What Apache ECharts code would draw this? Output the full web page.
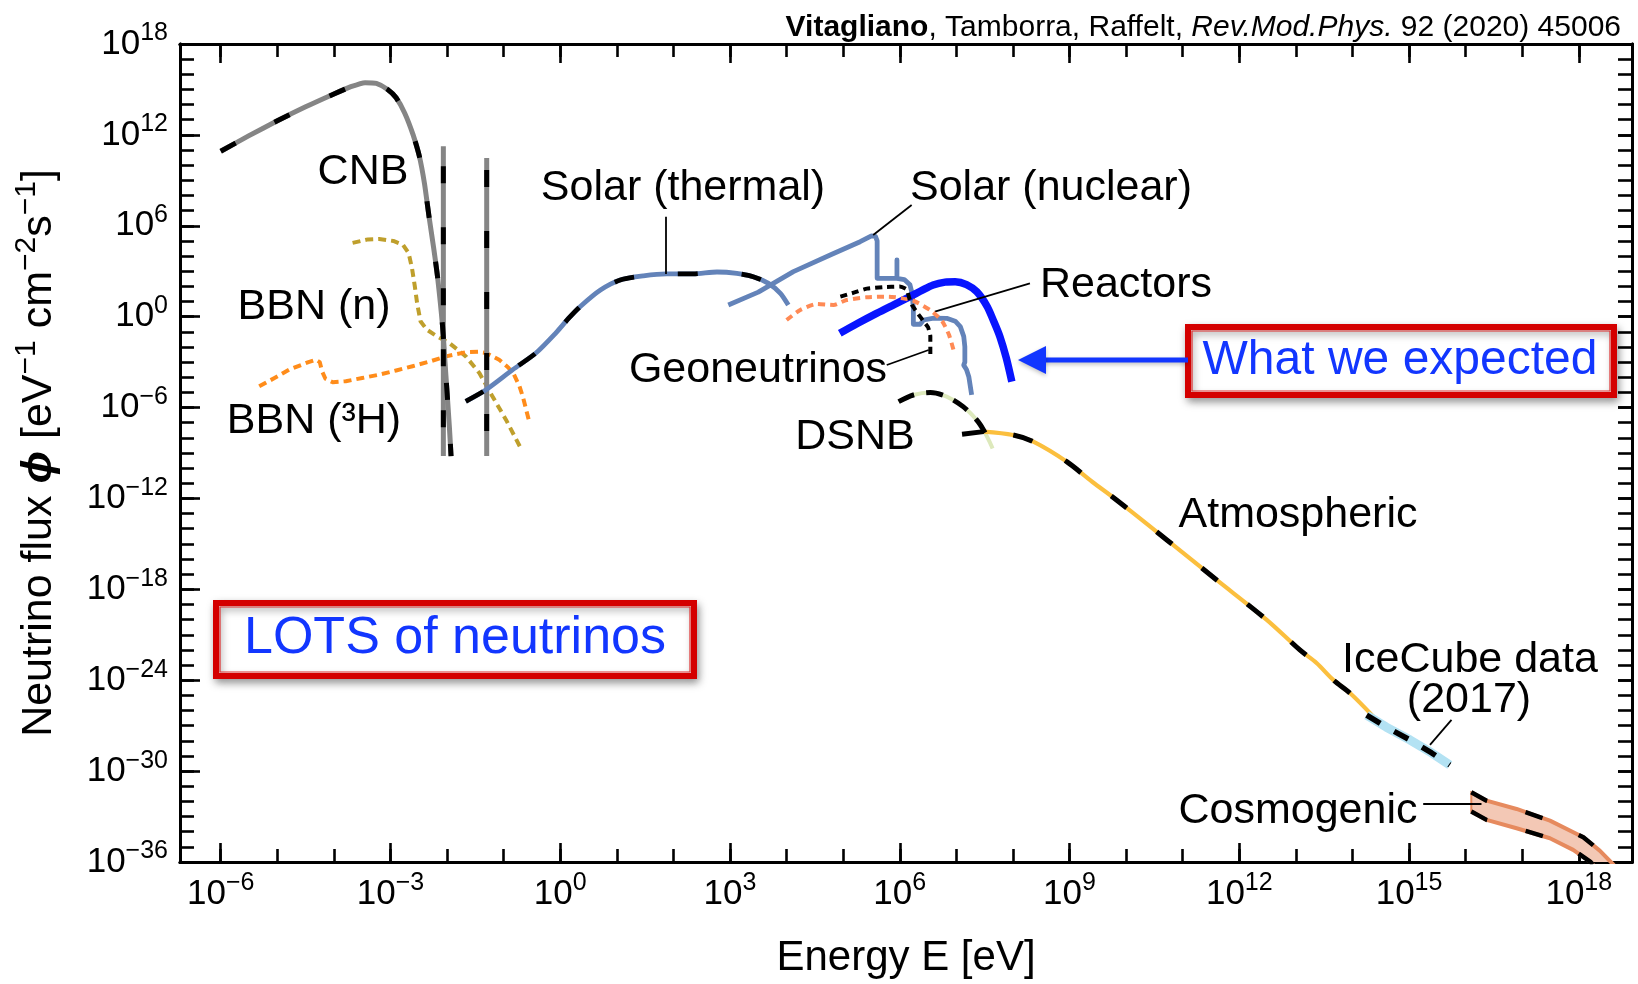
<!DOCTYPE html>
<html><head><meta charset="utf-8">
<script src="https://cdn.jsdelivr.net/npm/echarts@6/dist/echarts.min.js"></script>
<style>html,body{margin:0;padding:0;background:#fff}#c{width:1638px;height:984px}</style>
</head><body><div id="c"></div>
<script>
// ---- axis ticks (log10 values) ----
const xMinorTicks = [-6,-5,-4,-3,-2,-1,0,1,2,3,4,5,6,7,8,9,10,11,12,13,14,15,16,17,18];
const xMajorTicks = [-6,-3,0,3,6,9,12,15,18];
const yMinorTicks = [-36,-35,-34,-33,-32,-31,-30,-29,-28,-27,-26,-25,-24,-23,-22,-21,-20,-19,-18,-17,-16,-15,-14,-13,-12,-11,-10,-9,-8,-7,-6,-5,-4,-3,-2,-1,0,1,2,3,4,5,6,7,8,9,10,11,12,13,14,15,16,17,18];
const yMajorTicks = [-36,-30,-24,-18,-12,-6,0,6,12,18];

// ---- data: [log10(E/eV), log10(flux)] ----
const cnb = [[-6.0,10.92],[-5.5,11.95],[-5.0,12.93],[-4.5,13.85],[-4.0,14.7],[-3.7,15.18],[-3.45,15.45],[-3.25,15.4],[-3.05,15.0],[-2.9,14.45],[-2.75,13.45],[-2.6,12.0],[-2.49,10.59],[-2.4,8.8],[-2.32,6.63],[-2.24,4.6],[-2.17,2.67],[-2.08,-0.63],[-2.02,-3.93],[-1.96,-7.24],[-1.93,-9.2]];
const cnbLine1 = [[-2.066,11.25],[-2.066,-9.2]];
const cnbLine2 = [[-1.30,10.47],[-1.30,-9.2]];
const bbnN = [[-3.67,4.87],[-3.4,5.1],[-3.2,5.13],[-2.95,5.0],[-2.78,4.75],[-2.68,4.2],[-2.62,3.2],[-2.57,2.0],[-2.53,0.9],[-2.47,-0.3],[-2.36,-0.85],[-2.2,-1.25],[-1.96,-1.74],[-1.67,-2.62],[-1.43,-3.72],[-1.2,-5.25],[-0.96,-6.8],[-0.70,-8.67]];
const bbnH3 = [[-5.32,-4.6],[-5.05,-4.05],[-4.79,-3.5],[-4.45,-3.0],[-4.32,-2.84],[-4.25,-3.0],[-4.21,-3.6],[-4.15,-4.1],[-4.02,-4.33],[-3.79,-4.26],[-3.5,-4.05],[-3.2,-3.83],[-2.9,-3.55],[-2.61,-3.27],[-2.3,-2.95],[-2.02,-2.62],[-1.67,-2.35],[-1.45,-2.32],[-1.31,-2.4],[-1.08,-2.84],[-0.92,-3.35],[-0.82,-3.8],[-0.72,-4.6],[-0.66,-5.3],[-0.55,-6.9]];
const solarThermal = [[-1.67,-5.59],[-1.31,-4.82],[-0.84,-3.5],[-0.43,-2.4],[-0.08,-1.08],[0.15,-0.1],[0.35,0.66],[0.71,1.76],[1.06,2.42],[1.47,2.69],[1.88,2.82],[2.35,2.82],[2.77,2.95],[3.12,2.86],[3.41,2.64],[3.68,2.2],[3.89,1.54],[4.03,0.77]];
const solarNuclear = [[2.97,0.77],[3.5,1.62],[4.12,2.97],[4.8,4.12],[5.3,4.95],[5.5,5.33],[5.57,5.3],[5.6,5.0],[5.6,2.53],[5.95,2.53],[5.95,3.74],[5.95,2.53],[6.08,2.45],[6.18,2.1],[6.22,1.5],[6.24,0.5],[6.24,-0.5],[6.36,-0.5],[6.42,-0.22],[6.6,-0.1],[6.83,-0.11],[6.98,-0.3],[7.07,-0.66],[7.13,-1.3],[7.15,-1.98],[7.15,-3.0],[7.13,-3.2],[7.18,-3.5],[7.22,-3.96],[7.27,-5.17]];
const geo = [[4.95,1.32],[5.2,1.6],[5.42,1.85],[5.7,1.95],[6.0,1.99],[6.12,1.8],[6.17,1.2],[6.22,0.75],[6.3,0.3],[6.42,-0.3],[6.5,-0.7],[6.54,-1.3],[6.54,-2.55]];
const reactors = [[4.0,-0.22],[4.24,0.44],[4.53,0.84],[4.83,0.77],[5.06,1.1],[5.41,1.28],[5.8,1.32],[6.24,1.05],[6.55,0.4],[6.75,-0.3],[6.87,-1.2],[6.95,-2.2]];
const expected = [[4.94,-1.1],[5.25,-0.45],[5.59,0.22],[5.9,0.8],[6.18,1.32],[6.4,1.75],[6.59,2.09],[6.8,2.28],[6.98,2.31],[7.18,2.12],[7.36,1.65],[7.54,0.7],[7.66,-0.3],[7.77,-1.32],[7.88,-2.7],[7.98,-4.29]];
const dsnb = [[5.98,-5.61],[6.24,-5.17],[6.54,-5.01],[6.83,-5.28],[7.12,-5.94],[7.36,-6.82],[7.48,-7.48],[7.6,-8.36],[7.64,-8.7]];
const atmStub = [[7.1,-7.76],[7.48,-7.59]];
const atmospheric = [[7.48,-7.59],[8.0,-7.81],[8.36,-8.25],[8.95,-9.57],[9.4,-10.9],[9.83,-12.1],[10.72,-14.74],[11.6,-17.38],[12.48,-20.0],[13.07,-22.0],[13.37,-22.88],[13.66,-23.98],[13.96,-24.86],[14.37,-26.4]];
const icecube = [[14.25,-26.3],[14.6,-27.1],[15.02,-27.95],[15.4,-28.8],[15.72,-29.6]];
const cosmoUpper = [[16.1,-31.4],[16.37,-31.95],[16.9,-32.5],[17.49,-33.27],[18.08,-34.37],[18.37,-35.25],[18.6,-36.13],[18.8,-36.9]];
const cosmoLower = [[16.1,-32.67],[16.37,-33.22],[16.9,-33.77],[17.49,-34.43],[17.9,-35.2],[18.2,-35.97],[18.35,-36.6]];
// leader lines from labels to curves
const leaders = [
  [[1.87,6.6],[1.87,2.82]],
  [[5.53,5.39],[6.21,7.37]],
  [[6.62,0.33],[8.30,2.2]],
  [[5.77,-3.19],[6.51,-2.2]],
  [[15.37,-28.27],[15.75,-26.62]],
  [[15.25,-32.18],[16.28,-32.18]]
];

const X_MIN = -6.72, X_MAX = 18.94, Y_MIN = -36, Y_MAX = 18;
const FONT = '"Liberation Sans", Arial, Helvetica, sans-serif';
const LBL = '43px ' + FONT;

function expStr(v){ return v < 0 ? '\u2212' + (-v) : String(v); }
const tickRich = {
  b:{fontSize:35, lineHeight:46, fontFamily:FONT, color:'#000', verticalAlign:'middle'},
  s:{fontSize:25, lineHeight:27, fontFamily:FONT, color:'#000', verticalAlign:'top'}
};
function mkX(pos, ticks, len, withLabels, extra){
  return Object.assign({type:'value', position:pos, min:X_MIN, max:X_MAX, gridIndex:0,
    axisLine:{show:true, onZero:false, lineStyle:{color:'#000', width:3}},
    axisTick:{show:true, inside:true, length:len, customValues:ticks, lineStyle:{color:'#000', width:2.6}},
    axisLabel: withLabels ? {show:true, customValues:ticks, margin:9, formatter:v=>'{b|10}{s|'+expStr(v)+'}', rich:tickRich} : {show:false},
    splitLine:{show:false}}, extra||{});
}
function mkY(pos, ticks, len, withLabels, extra){
  return Object.assign({type:'value', position:pos, min:Y_MIN, max:Y_MAX, gridIndex:0,
    axisLine:{show:true, onZero:false, lineStyle:{color:'#000', width:3}},
    axisTick:{show:true, inside:true, length:len, customValues:ticks, lineStyle:{color:'#000', width:2.6}},
    axisLabel: withLabels ? {show:true, customValues:ticks, margin:12, formatter:v=>'{b|10}{s|'+expStr(v)+'}', rich:tickRich} : {show:false},
    splitLine:{show:false}}, extra||{});
}

function line(data, color, width, type, z, extra){
  return Object.assign({type:'line', data:data, xAxisIndex:0, yAxisIndex:0, symbol:'none', silent:true, animation:false,
    z:z||2, lineStyle:{color:color, width:width, type:type||'solid', cap:'butt', join:'round'}}, extra||{});
}

const chart = echarts.init(document.getElementById('c'));
const option = {
  animation:false,
  backgroundColor:'#fff',
  title:{
    text:'{b|Vitagliano}{n|, Tamborra, Raffelt, }{i|Rev.Mod.Phys.}{n| 92 (2020) 45006}',
    right:12, top:6,
    textStyle:{fontWeight:'normal', rich:{
      b:{fontSize:30, fontWeight:'bold', fontFamily:FONT, color:'#000', lineHeight:34},
      n:{fontSize:30, fontWeight:'normal', fontFamily:FONT, color:'#000', lineHeight:34},
      i:{fontSize:30, fontWeight:'normal', fontStyle:'italic', fontFamily:FONT, color:'#000', lineHeight:34}
    }}
  },
  grid:{left:180, right:6, top:44, bottom:122, containLabel:false},
  xAxis:[
    mkX('bottom', xMinorTicks, 13, false),
    mkX('bottom', xMajorTicks, 19, true, {
      name:'Energy E [eV]', nameLocation:'middle', nameGap:75,
      nameTextStyle:{fontSize:42, fontFamily:FONT, color:'#000'}}),
    mkX('top', xMinorTicks, 13, false),
    mkX('top', xMajorTicks, 19, false)
  ],
  yAxis:[
    mkY('left', yMinorTicks, 14, false),
    mkY('left', yMajorTicks, 20, true, {
      name:'{a|Neutrino flux }{p|\u03d5}{a| [eV}{s|\u22121}{a| cm}{s|\u22122}{a|s}{s|\u22121}{a|]}',
      nameLocation:'middle', nameRotate:90, nameGap:114,
      nameTextStyle:{rich:{
        a:{fontSize:43, fontFamily:FONT, color:'#000', lineHeight:54, verticalAlign:'middle'},
        p:{fontSize:43, fontFamily:FONT, color:'#000', fontStyle:'italic', fontWeight:'bold', lineHeight:54, verticalAlign:'middle'},
        s:{fontSize:30, fontFamily:FONT, color:'#000', lineHeight:32, verticalAlign:'top'}
      }}}),
    mkY('right', yMinorTicks, 14, false),
    mkY('right', yMajorTicks, 14, false)
  ],
  series:[
    // cosmogenic band fill
    {type:'custom', coordinateSystem:'cartesian2d', xAxisIndex:0, yAxisIndex:0, clip:true, silent:true, z:1,
      data:[[0,0]],
      renderItem:function(params, api){
        const pts = cosmoUpper.map(p=>api.coord(p)).concat(cosmoLower.slice().reverse().map(p=>api.coord(p)));
        return {type:'polygon', shape:{points:pts}, style:{fill:'#f3c8b5', stroke:'#e68a5e', lineWidth:2}};
      }},
    line(cosmoUpper, '#e68a5e', 4, 'solid', 2),
    line(cosmoLower, '#e68a5e', 4, 'solid', 2),
    line(cosmoUpper, '#000', 4.5, [18,40], 3),
    line(cosmoLower, '#000', 4.5, [18,40], 3),
    // BBN
    line(bbnN, '#bf9f2c', 4, [8,5], 2),
    line(bbnH3, '#ff8c1a', 4, [8,5], 2),
    // CNB
    line(cnb, '#858585', 5, 'solid', 3, {smooth:0.2}),
    line(cnb, '#000', 5, [17,44], 4, {smooth:0.2}),
    line(cnbLine1, '#858585', 5, 'solid', 3),
    line(cnbLine1, '#000', 5, [17,44], 4, {lineStyle:{color:'#000', width:5, type:[17,44], dashOffset:-20, cap:'butt'}}),
    line(cnbLine2, '#858585', 5, 'solid', 3),
    line(cnbLine2, '#000', 5, [17,44], 4, {lineStyle:{color:'#000', width:5, type:[17,44], dashOffset:-12, cap:'butt'}}),
    // Solar
    line(solarThermal, '#6383b9', 4.8, 'solid', 3, {smooth:0.25}),
    line(solarThermal, '#000', 4.8, [20,44], 4, {smooth:0.25}),
    line(solarNuclear, '#6383b9', 4.8, 'solid', 3),
    // what we expected
    line(expected, '#0814ff', 7.5, 'solid', 5, {smooth:0.3}),
    // reactors & geoneutrinos
    line(reactors, '#ff8a55', 4, [7,5], 6, {smooth:0.2}),
    line(geo, '#000', 4, [7,5], 6, {smooth:0.15}),
    // DSNB
    line(dsnb, '#dde9bc', 4, 'solid', 3, {smooth:0.3}),
    line(dsnb.slice(0,8), '#000', 5, [17,12], 4, {smooth:0.3}),
    // atmospheric
    line(atmStub, '#000', 5, 'solid', 4),
    line(atmospheric, '#fbbf3e', 4.2, 'solid', 3, {smooth:0.3}),
    line(atmospheric, '#000', 5, [20,38], 4, {smooth:0.3, lineStyle:{color:'#000', width:5, type:[20,38], dashOffset:-30, cap:'butt'}}),
    // IceCube
    line(icecube, '#b3e2f3', 9, 'solid', 3),
    line(icecube, '#000', 5.5, [16,16], 4),
    // leader lines
    {type:'lines', coordinateSystem:'cartesian2d', xAxisIndex:0, yAxisIndex:0, silent:true, z:6,
      data: leaders.map(c=>({coords:c})),
      lineStyle:{color:'#000', width:1.8, opacity:1, curveness:0}}
  ],
  graphic:[
    // labels
    {type:'text', x:363, y:172, z:50, style:{text:'CNB', font:LBL, fill:'#000', align:'center', verticalAlign:'middle'}},
    {type:'text', x:683, y:188, z:50, style:{text:'Solar (thermal)', font:LBL, fill:'#000', align:'center', verticalAlign:'middle'}},
    {type:'text', x:1051, y:188, z:50, style:{text:'Solar (nuclear)', font:LBL, fill:'#000', align:'center', verticalAlign:'middle'}},
    {type:'text', x:1126, y:285, z:50, style:{text:'Reactors', font:LBL, fill:'#000', align:'center', verticalAlign:'middle'}},
    {type:'text', x:314, y:307, z:50, style:{text:'BBN (n)', font:LBL, fill:'#000', align:'center', verticalAlign:'middle'}},
    {type:'text', x:758, y:370, z:50, style:{text:'Geoneutrinos', font:LBL, fill:'#000', align:'center', verticalAlign:'middle'}},
    {type:'text', x:314, y:421, z:50, style:{text:'BBN (\u00b3H)', font:LBL, fill:'#000', align:'center', verticalAlign:'middle'}},
    {type:'text', x:855, y:437, z:50, style:{text:'DSNB', font:LBL, fill:'#000', align:'center', verticalAlign:'middle'}},
    {type:'text', x:1298, y:515, z:50, style:{text:'Atmospheric', font:LBL, fill:'#000', align:'center', verticalAlign:'middle'}},
    {type:'text', x:1470, y:660, z:50, style:{text:'IceCube data', font:LBL, fill:'#000', align:'center', verticalAlign:'middle'}},
    {type:'text', x:1469, y:700, z:50, style:{text:'(2017)', font:LBL, fill:'#000', align:'center', verticalAlign:'middle'}},
    {type:'text', x:1298, y:811, z:50, style:{text:'Cosmogenic', font:LBL, fill:'#000', align:'center', verticalAlign:'middle'}},
    // "What we expected" box + arrow
    {type:'rect', z:40, shape:{x:1188, y:327, width:426, height:68},
      style:{fill:'#fff', stroke:'#d40000', lineWidth:6, shadowBlur:8, shadowColor:'rgba(0,0,0,0.35)', shadowOffsetX:2, shadowOffsetY:4}},
    {type:'rect', z:41, shape:{x:1192, y:331, width:418, height:60},
      style:{fill:'none', stroke:'#e03030', lineWidth:1.2}},
    {type:'text', x:1400, y:361, z:50, style:{text:'What we expected', font:'48px '+FONT, fill:'#1236ff', align:'center', verticalAlign:'middle'}},
    {type:'line', z:40, shape:{x1:1188, y1:360, x2:1040, y2:360}, style:{stroke:'#1236ff', lineWidth:5, shadowBlur:4, shadowColor:'rgba(0,0,0,0.25)', shadowOffsetY:2}},
    {type:'polygon', z:40, shape:{points:[[1018,360],[1046,346],[1046,374]]}, style:{fill:'#1236ff', shadowBlur:4, shadowColor:'rgba(0,0,0,0.25)', shadowOffsetY:2}},
    // "LOTS of neutrinos" box
    {type:'rect', z:40, shape:{x:216, y:603, width:478, height:73},
      style:{fill:'#fff', stroke:'#d40000', lineWidth:6, shadowBlur:8, shadowColor:'rgba(0,0,0,0.35)', shadowOffsetX:2, shadowOffsetY:4}},
    {type:'rect', z:41, shape:{x:220, y:607, width:470, height:65},
      style:{fill:'none', stroke:'#e03030', lineWidth:1.2}},
    {type:'text', x:455, y:639, z:50, style:{text:'LOTS of neutrinos', font:'52px '+FONT, fill:'#1236ff', align:'center', verticalAlign:'middle'}}
  ]
};
chart.setOption(option);
</script>
</body></html>
